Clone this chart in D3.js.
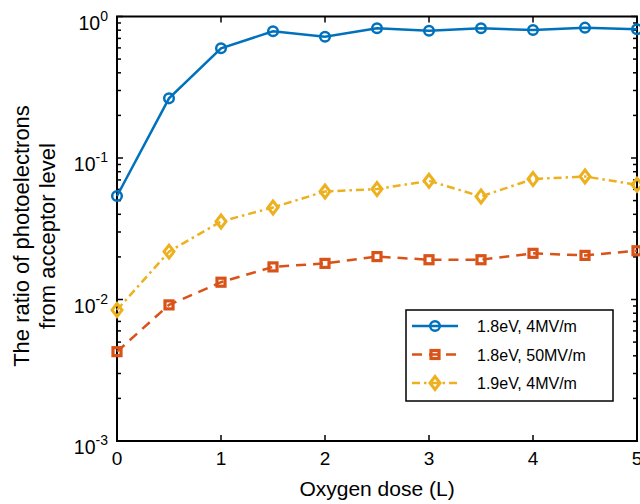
<!DOCTYPE html>
<html><head><meta charset="utf-8">
<script src="https://cdn.jsdelivr.net/npm/d3@7"></script>
<style>body{margin:0;background:#fff}svg{display:block}text{font-family:"Liberation Sans",Arial,sans-serif;fill:#000}</style>
</head><body><div id="c"></div>
<script>
const xValues = [0,0.5,1,1.5,2,2.5,3,3.5,4,4.5,5];
const seriesNames = ["1.8eV, 4MV/m","1.8eV, 50MV/m","1.9eV, 4MV/m"];
const blue = [0.0539,0.264,0.596,0.786,0.720,0.825,0.794,0.825,0.803,0.834,0.812];
const orange = [0.00428,0.00916,0.01325,0.0170,0.0180,0.0201,0.0191,0.0191,0.0212,0.0205,0.0221];
const yellow = [0.00843,0.0218,0.0356,0.0447,0.058,0.0603,0.069,0.0535,0.071,0.074,0.0647];
const xTicks = [0,1,2,3,4,5];
const yTickExps = [-3,-2,-1,0];
const colors = ["#0072BD","#D95319","#EDB120"];

const W=640,H=504, L=117,R=637,T=16.5,B=441;
const svg=d3.select("#c").append("svg").attr("width",W).attr("height",H);
const x=d3.scaleLinear().domain([0,5]).range([L,R]);
const y=d3.scaleLog().domain([1e-3,1]).range([B,T]);

const minor=[];
for(let e=-3;e<0;e++) for(let m=2;m<=9;m++) minor.push(m*Math.pow(10,e));
const g=svg.append("g");
minor.forEach(v=>{
  g.append("line").attr("x1",L).attr("x2",L+4).attr("y1",y(v)).attr("y2",y(v)).attr("stroke","#000").attr("stroke-width",1.5);
  g.append("line").attr("x1",R).attr("x2",R-4).attr("y1",y(v)).attr("y2",y(v)).attr("stroke","#000").attr("stroke-width",1.5);
});
yTickExps.forEach(e=>{
  const v=Math.pow(10,e);
  g.append("line").attr("x1",L).attr("x2",L+6).attr("y1",y(v)).attr("y2",y(v)).attr("stroke","#000").attr("stroke-width",1.5);
  g.append("line").attr("x1",R).attr("x2",R-6).attr("y1",y(v)).attr("y2",y(v)).attr("stroke","#000").attr("stroke-width",1.5);
  const t=svg.append("text").attr("x",L-9).attr("y",y(v)+13).attr("text-anchor","end").attr("font-size",19.5);
  t.append("tspan").text("10");
  t.append("tspan").attr("dy",-9).attr("font-size",14).text(String(e));
});
xTicks.forEach(v=>{
  g.append("line").attr("x1",x(v)).attr("x2",x(v)).attr("y1",B).attr("y2",B-6).attr("stroke","#000").attr("stroke-width",1.5);
  g.append("line").attr("x1",x(v)).attr("x2",x(v)).attr("y1",T).attr("y2",T+6).attr("stroke","#000").attr("stroke-width",1.5);
  svg.append("text").attr("x",x(v)).attr("y",B+24).attr("text-anchor","middle").attr("font-size",19).text(v);
});
svg.append("rect").attr("x",L).attr("y",T).attr("width",R-L).attr("height",B-T).attr("fill","none").attr("stroke","#000").attr("stroke-width",2);

const series=[{d:blue,c:colors[0],dash:null,m:"circle"},{d:orange,c:colors[1],dash:"10,7",m:"square"},{d:yellow,c:colors[2],dash:"8,4,2.5,4",m:"diamond"}];
const line=d3.line().x((d,i)=>x(xValues[i])).y(d=>y(d));
function marker(sel,m,c){
  if(m==="circle") sel.append("circle").attr("r",4.8).attr("fill","none").attr("stroke",c).attr("stroke-width",2.5);
  else if(m==="square") sel.append("rect").attr("x",-4).attr("y",-4).attr("width",8).attr("height",8).attr("fill","none").attr("stroke",c).attr("stroke-width",3.2);
  else sel.append("path").attr("d","M0,-6.5L5,0L0,6.5L-5,0Z").attr("fill","none").attr("stroke",c).attr("stroke-width",3);
}
series.forEach(s=>{
  svg.append("path").attr("d",line(s.d)).attr("fill","none").attr("stroke",s.c).attr("stroke-width",2.5).attr("stroke-dasharray",s.dash);
  s.d.forEach((v,i)=>{ const gm=svg.append("g").attr("transform",`translate(${x(xValues[i])},${y(v)})`); marker(gm,s.m,s.c); });
});

const lg=svg.append("g");
lg.append("rect").attr("x",406).attr("y",310).attr("width",207).attr("height",91).attr("fill","#fff").attr("stroke","#000").attr("stroke-width",1.5);
series.forEach((s,i)=>{
  const yy=326+i*28.5;
  lg.append("line").attr("x1",412).attr("x2",458).attr("y1",yy).attr("y2",yy).attr("stroke",s.c).attr("stroke-width",2.5).attr("stroke-dasharray",s.dash);
  const gm=lg.append("g").attr("transform",`translate(435,${yy})`); marker(gm,s.m,s.c);
  lg.append("text").attr("x",477).attr("y",yy+6).attr("font-size",16).text(seriesNames[i]);
});

svg.append("text").attr("x",(L+R)/2).attr("y",496).attr("text-anchor","middle").attr("font-size",21).text("Oxygen dose (L)");
const yl=svg.append("text").attr("transform",`translate(0,236) rotate(-90)`).attr("text-anchor","middle").attr("font-size",22);
yl.append("tspan").attr("x",0).attr("y",29).text("The ratio of photoelectrons");
yl.append("tspan").attr("x",0).attr("y",55).text("from acceptor level");
</script></body></html>
